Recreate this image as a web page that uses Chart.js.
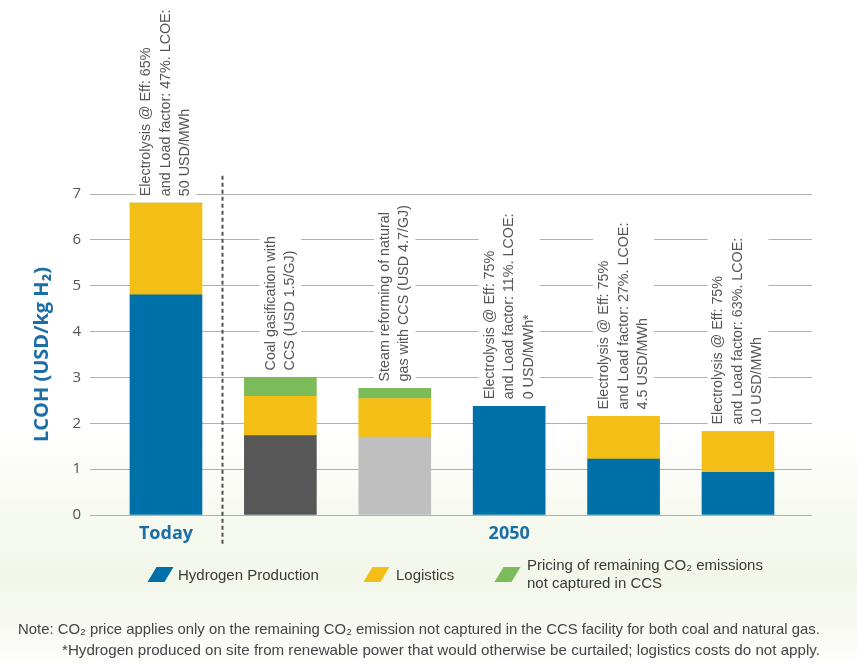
<!DOCTYPE html>
<html><head><meta charset="utf-8">
<script src="https://cdn.jsdelivr.net/npm/chart.js@4.4.1/dist/chart.umd.min.js"></script>
<style>
html,body{margin:0;padding:0;background:#fff;}
#wrap{position:relative;width:857px;height:668px;overflow:hidden;
  background:linear-gradient(to bottom,#ffffff 0px,#ffffff 430px,#f6f9ef 520px,#f3f7ea 580px,#f8faf3 630px,#ffffff 668px);}
#c{position:absolute;left:0;top:0;}
.lg{position:absolute;font-family:'Liberation Sans',Arial,sans-serif;font-size:15px;color:#3a3a3a;line-height:18px;white-space:nowrap;}
.ic{position:absolute;width:17px;height:15px;transform:skewX(-31deg);}
.note{position:absolute;right:37px;font-family:'Liberation Sans',Arial,sans-serif;font-size:14.5px;color:#444;white-space:nowrap;text-align:right;transform-origin:right center;}
</style></head>
<body>
<div id="wrap">
<canvas id="c" width="857" height="668"></canvas>
<div class="ic" style="left:152px;top:567px;background:#0070a8"></div>
<div class="lg" style="left:178px;top:566px">Hydrogen Production</div>
<div class="ic" style="left:368px;top:567px;background:#f3be16"></div>
<div class="lg" style="left:396px;top:566px">Logistics</div>
<div class="ic" style="left:499px;top:567px;background:#7cbb5a"></div>
<div class="lg" style="left:527px;top:556px">Pricing of remaining CO₂ emissions<br>not captured in CCS</div>
<div class="note" id="n1" data-w="802" style="top:621px">Note: CO₂ price applies only on the remaining CO₂ emission not captured in the CCS facility for both coal and natural gas.</div>
<div class="note" id="n2" data-w="758" style="top:642px">*Hydrogen produced on site from renewable power that would otherwise be curtailed; logistics costs do not apply.</div>
</div>
<script>
const categories = ['Today', 'Coal gasification with CCS', 'Steam reforming of natural gas with CCS', 'Electrolysis LCOE 0', 'Electrolysis LCOE 4.5', 'Electrolysis LCOE 10'];
const hydrogenProduction = [4.8, 1.73, 1.70, 2.37, 1.22, 0.93];
const logistics = [2.0, 0.86, 0.84, 0, 0.93, 0.89];
const co2Pricing = [0, 0.41, 0.22, 0, 0, 0];
const yTicks = [0, 1, 2, 3, 4, 5, 6, 7];
const periodLabels = ['Today', '2050'];
const periodCenters = [0, 3];
const seriesNames = ['Hydrogen Production', 'Logistics', 'Pricing of remaining CO₂ emissions not captured in CCS'];
const barNotes = [
  ['Electrolysis @ Eff: 65%', 'and Load factor: 47%. LCOE:', '50 USD/MWh'],
  ['Coal gasification with', 'CCS (USD 1.5/GJ)'],
  ['Steam reforming of natural', 'gas with CCS (USD 4.7/GJ)'],
  ['Electrolysis @ Eff: 75%', 'and Load factor: 11%. LCOE:', '0 USD/MWh*'],
  ['Electrolysis @ Eff: 75%', 'and Load factor: 27%. LCOE:', '4.5 USD/MWh'],
  ['Electrolysis @ Eff: 75%', 'and Load factor: 63%. LCOE:', '10 USD/MWh']
];

// fit the condensed-looking notes to their width in the reference
document.querySelectorAll('.note').forEach(el => {
  const w = el.scrollWidth;
  el.style.transform = 'scaleX(' + (parseFloat(el.dataset.w) / w) + ')';
});

const BLUE = '#0070a8', YELLOW = '#f3be16', GREEN = '#7cbb5a';
const prodColors = [BLUE, '#575757', '#bfbfbf', BLUE, BLUE, BLUE];
const toXY = arr => arr.map((v, i) => ({x: i, y: v}));

const annotate = {
  id: 'annotate',
  afterDatasetsDraw(chart) {
    const ctx = chart.ctx, xs = chart.scales.x, ys = chart.scales.y;
    const ca = chart.chartArea;
    ctx.save();
    ctx.font = '14.3px "Liberation Sans", Arial, sans-serif';
    const lh = 19.5;
    categories.forEach((c, i) => {
      const total = hydrogenProduction[i] + logistics[i] + co2Pricing[i];
      const x = xs.getPixelForValue(i);
      const top = ys.getPixelForValue(total);
      const lines = barNotes[i];
      const n = lines.length;
      let maxW = 0;
      lines.forEach(l => { maxW = Math.max(maxW, ctx.measureText(l).width); });
      ctx.save();
      ctx.translate(x, top - 7);
      ctx.rotate(-Math.PI / 2);
      ctx.fillStyle = '#ffffff';
      const half = (n - 1) / 2 * lh + 11;
      ctx.fillRect(-4, -half, maxW + 8, half * 2);
      ctx.fillStyle = '#555555';
      ctx.textAlign = 'left';
      ctx.textBaseline = 'middle';
      lines.forEach((l, j) => ctx.fillText(l, 0, (j - (n - 1) / 2) * lh));
      ctx.restore();
    });
    const sx = Math.round(xs.getPixelForValue(0.5)) - 0.5;
    ctx.strokeStyle = '#505050';
    ctx.lineWidth = 2;
    ctx.setLineDash([4, 3]);
    ctx.beginPath();
    ctx.moveTo(sx, ys.getPixelForValue(7.4));
    ctx.lineTo(sx, ca.bottom + 30);
    ctx.stroke();
    ctx.setLineDash([]);
    ctx.fillStyle = '#1b6ea6';
    ctx.font = 'bold 18px "Open Sans", sans-serif';
    ctx.textAlign = 'center';
    ctx.textBaseline = 'middle';
    periodLabels.forEach((p, k) => ctx.fillText(p, xs.getPixelForValue(periodCenters[k]), ca.bottom + 19));
    ctx.restore();
  }
};

new Chart(document.getElementById('c'), {
  type: 'bar',
  data: {
    labels: categories,
    datasets: [
      {label: seriesNames[0], data: toXY(hydrogenProduction), backgroundColor: prodColors, barThickness: 72, borderWidth: 0},
      {label: seriesNames[1], data: toXY(logistics), backgroundColor: YELLOW, barThickness: 72, borderWidth: 0},
      {label: seriesNames[2], data: toXY(co2Pricing), backgroundColor: GREEN, barThickness: 72, borderWidth: 0}
    ]
  },
  options: {
    responsive: false,
    devicePixelRatio: 1,
    animation: false,
    events: [],
    layout: {padding: {top: 194, bottom: 153, left: 0, right: 45}},
    plugins: {legend: {display: false}, tooltip: {enabled: false}},
    scales: {
      x: {type: 'linear', offset: false, min: -0.664, max: 5.647, stacked: true, display: false},
      y: {
        stacked: true, min: 0, max: 7,
        afterBuildTicks: s => { s.ticks = yTicks.map(v => ({value: v})); },
        afterFit: s => { s.width = 90; },
        border: {display: false},
        grid: {color: '#b0b0b0', lineWidth: 1, drawTicks: false},
        ticks: {padding: 9, color: '#555', font: {family: '"Open Sans", sans-serif', size: 15}},
        title: {display: true, text: 'LCOH (USD/kg H₂)', color: '#1b6ea6', padding: {top: 30, bottom: 0},
          font: {family: '"Open Sans", "DejaVu Sans", sans-serif', size: 20, weight: 'bold'}}
      }
    }
  },
  plugins: [annotate]
});
</script>
</body></html>
